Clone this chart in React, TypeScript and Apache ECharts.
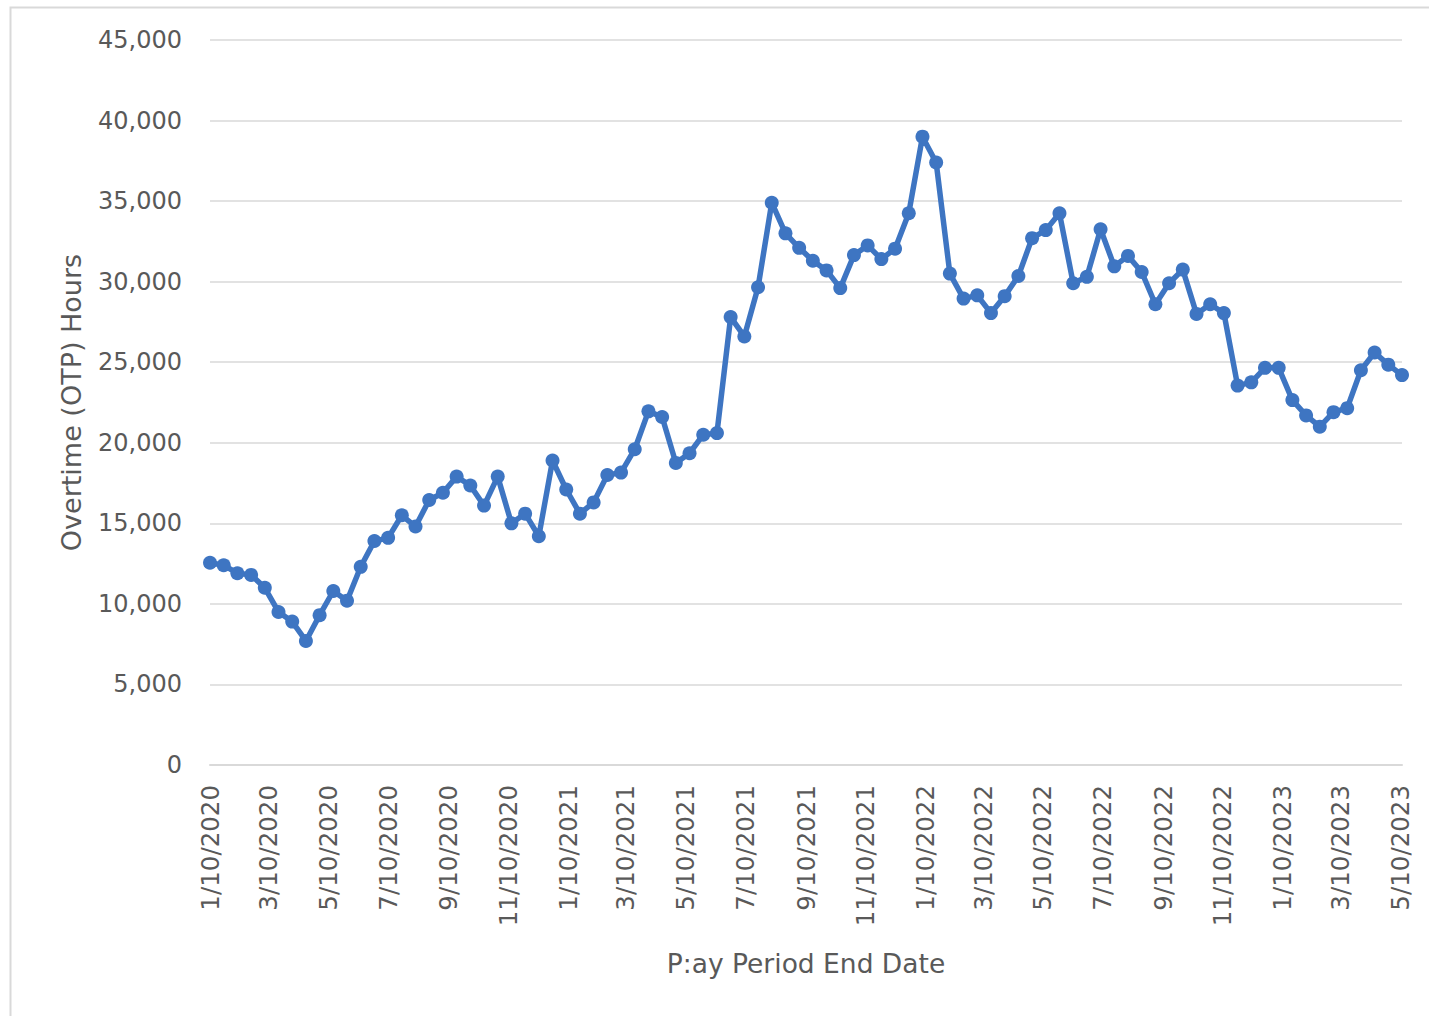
import React, { useEffect, useRef } from "react";
import * as echarts from "echarts";

// Pay period end dates (biweekly)
const payDates: string[] = [
  "2020-01-10", "2020-01-24", "2020-02-07", "2020-02-21", "2020-03-06", "2020-03-20",
  "2020-04-03", "2020-04-17", "2020-05-01", "2020-05-15", "2020-05-29", "2020-06-12",
  "2020-06-26", "2020-07-10", "2020-07-24", "2020-08-07", "2020-08-21", "2020-09-04",
  "2020-09-18", "2020-10-02", "2020-10-16", "2020-10-30", "2020-11-13", "2020-11-27",
  "2020-12-11", "2020-12-25",
  "2021-01-08", "2021-01-22", "2021-02-05", "2021-02-19", "2021-03-05", "2021-03-19",
  "2021-04-02", "2021-04-16", "2021-04-30", "2021-05-14", "2021-05-28", "2021-06-11",
  "2021-06-25", "2021-07-09", "2021-07-23", "2021-08-06", "2021-08-20", "2021-09-03",
  "2021-09-17", "2021-10-01", "2021-10-15", "2021-10-29", "2021-11-12", "2021-11-26",
  "2021-12-10", "2021-12-24",
  "2022-01-07", "2022-01-21", "2022-02-04", "2022-02-18", "2022-03-04", "2022-03-18",
  "2022-04-01", "2022-04-15", "2022-04-29", "2022-05-13", "2022-05-27", "2022-06-10",
  "2022-06-24", "2022-07-08", "2022-07-22", "2022-08-05", "2022-08-19", "2022-09-02",
  "2022-09-16", "2022-09-30", "2022-10-14", "2022-10-28", "2022-11-11", "2022-11-25",
  "2022-12-09", "2022-12-23",
  "2023-01-06", "2023-01-20", "2023-02-03", "2023-02-17", "2023-03-03", "2023-03-17",
  "2023-03-31", "2023-04-14", "2023-04-28", "2023-05-12",
];

// Overtime (OTP) hours per pay period
const otpHours: number[] = [
  12550, 12400, 11900, 11800, 11000, 9500, 8900, 7700, 9300, 10800, 10200, 12300,
  13900, 14100, 15500, 14800, 16450, 16900, 17900, 17350, 16100, 17900, 15000, 15600,
  14200, 18900,
  17100, 15600, 16300, 18000, 18150, 19600, 21950, 21600, 18750, 19350, 20500, 20600,
  27800, 26600, 29650, 34900, 33000, 32100, 31300, 30700, 29600, 31650, 32250, 31400,
  32050, 34250,
  39000, 37400, 30500, 28950, 29150, 28050, 29100, 30350, 32700, 33200, 34250, 29900,
  30300, 33250, 30950, 31600, 30600, 28600, 29900, 30750, 28000, 28600, 28050, 23550,
  23750, 24650,
  24650, 22650, 21700, 21000, 21900, 22150, 24500, 25600, 24850, 24200,
];

// X axis tick labels
const xTickLabels: string[] = [
  "1/10/2020", "3/10/2020", "5/10/2020", "7/10/2020", "9/10/2020", "11/10/2020",
  "1/10/2021", "3/10/2021", "5/10/2021", "7/10/2021", "9/10/2021", "11/10/2021",
  "1/10/2022", "3/10/2022", "5/10/2022", "7/10/2022", "9/10/2022", "11/10/2022",
  "1/10/2023", "3/10/2023", "5/10/2023",
];

const yTicks = { min: 0, max: 45000, step: 5000 };

const isoToTs = (s: string) => {
  const [y, m, d] = s.split("-").map(Number);
  return new Date(y, m - 1, d).getTime();
};
const mdyToTs = (s: string) => {
  const [m, d, y] = s.split("/").map(Number);
  return new Date(y, m - 1, d).getTime();
};
const fmtDate = (v: number) => {
  const dt = new Date(v);
  return `${dt.getMonth() + 1}/${dt.getDate()}/${dt.getFullYear()}`;
};
const fmtNum = (v: number) => String(Math.round(v)).replace(/\B(?=(\d{3})+(?!\d))/g, ",");

export default function App() {
  const ref = useRef<HTMLDivElement>(null);
  useEffect(() => {
    if (!ref.current) return;
    const chart = echarts.init(ref.current, undefined, { renderer: "svg" });
    const font = "DejaVu Sans";
    const textColor = "#595959";
    const seriesData = payDates.map((d, i) => [isoToTs(d), otpHours[i]]);
    chart.setOption({
      animation: false,
      backgroundColor: "#ffffff",
      graphic: [
        {
          type: "rect",
          left: 8,
          top: 5,
          shape: { width: 1500, height: 1100 },
          style: { fill: "none", stroke: "#d9d9d9", lineWidth: 2 },
          silent: true,
        },
      ],
      grid: { left: 210, right: 27, top: 40, bottom: 251, containLabel: false },
      xAxis: {
        type: "value",
        min: isoToTs(payDates[0]),
        max: isoToTs(payDates[payDates.length - 1]),
        name: "P:ay Period End Date",
        nameLocation: "middle",
        nameGap: 185,
        nameTextStyle: { fontFamily: font, fontSize: 26.5, color: textColor },
        axisLine: { show: true, lineStyle: { color: "#d9d9d9", width: 2 } },
        axisTick: { show: false },
        splitLine: { show: false },
        axisLabel: {
          customValues: xTickLabels.map(mdyToTs),
          formatter: (v: number) => fmtDate(v),
          rotate: 90,
          margin: 20,
          fontFamily: font,
          fontSize: 24.5,
          color: textColor,
        },
      },
      yAxis: {
        type: "value",
        min: yTicks.min,
        max: yTicks.max,
        interval: yTicks.step,
        name: "Overtime (OTP) Hours",
        nameLocation: "middle",
        nameGap: 125,
        nameTextStyle: { fontFamily: font, fontSize: 27, color: textColor },
        axisLine: { show: false },
        axisTick: { show: false },
        splitLine: { show: true, lineStyle: { color: "#d9d9d9", width: 1.5 } },
        axisLabel: {
          formatter: (v: number) => fmtNum(v),
          margin: 28,
          fontFamily: font,
          fontSize: 24,
          color: textColor,
        },
      },
      series: [
        {
          type: "line",
          data: seriesData,
          symbol: "circle",
          symbolSize: 14,
          showSymbol: true,
          lineStyle: { color: "#3E75C2", width: 5.5 },
          itemStyle: { color: "#3E75C2" },
        },
      ],
    });
    return () => chart.dispose();
  }, []);
  return (
    <div
      ref={ref}
      style={{ position: "absolute", left: 0, top: 0, width: 1429, height: 1016 }}
    />
  );
}
